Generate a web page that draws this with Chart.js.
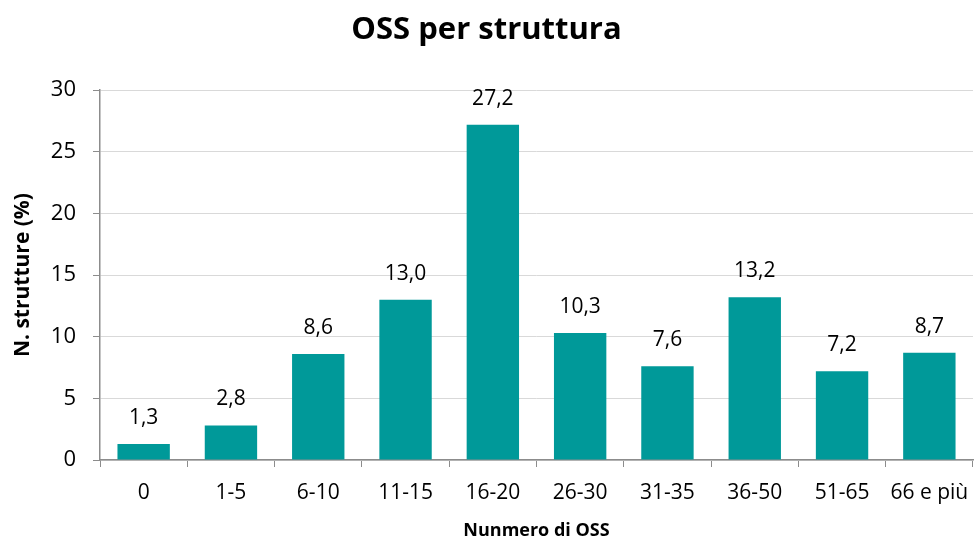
<!DOCTYPE html>
<html>
<head>
<meta charset="utf-8">
<script src="https://cdn.jsdelivr.net/npm/chart.js@4"></script>
<style>
  html, body { margin: 0; padding: 0; background: #fff; }
  #wrap { width: 978px; height: 546px; }
</style>
</head>
<body>
<div id="wrap"><canvas id="c"></canvas></div>
<script>
const categories = ['0', '1-5', '6-10', '11-15', '16-20', '26-30', '31-35', '36-50', '51-65', '66 e più'];
const percentuali = [1.3, 2.8, 8.6, 13.0, 27.2, 10.3, 7.6, 13.2, 7.2, 8.7];
const yTicks = [0, 5, 10, 15, 20, 25, 30];

const FONT = '"Open Sans", sans-serif';
const TEAL = '#009999';
const GRID = '#d9d9d9';
const AXIS = '#8c8c8c';

// etichette sopra le barre, formato italiano con virgola
const barLabels = {
  id: 'barLabels',
  afterDatasetsDraw(chart) {
    const { ctx } = chart;
    const meta = chart.getDatasetMeta(0);
    ctx.save();
    ctx.font = '21px ' + FONT;
    ctx.fillStyle = '#000';
    ctx.textAlign = 'center';
    ctx.textBaseline = 'middle';
    meta.data.forEach((bar, i) => {
      const txt = percentuali[i].toFixed(1).replace('.', ',');
      ctx.fillText(txt, bar.x, bar.y - 26);
    });
    ctx.restore();
  }
};

new Chart(document.getElementById('c'), {
  type: 'bar',
  data: {
    labels: categories,
    datasets: [{
      data: percentuali,
      backgroundColor: TEAL,
      borderWidth: 0,
      categoryPercentage: 0.6,
      barPercentage: 1,
    }],
  },
  options: {
    responsive: true,
    maintainAspectRatio: false,
    animation: false,
    layout: { padding: { left: 0, right: 5, top: 0, bottom: 0 } },
    scales: {
      x: {
        grid: { display: true, drawOnChartArea: false, drawTicks: true, tickLength: 7, tickColor: AXIS, color: AXIS, offset: true },
        border: { color: AXIS, width: 1.5 },
        ticks: { color: '#000', font: { family: FONT, size: 21 }, padding: 13, maxRotation: 0, autoSkip: false },
        title: { display: true, text: 'Nunmero di OSS', color: '#000', font: { family: FONT, size: 18, weight: 'bold' }, padding: { top: 4, bottom: 4 } },
        afterFit(scale) { scale.height = 86; scale.paddingRight = 0; },
      },
      y: {
        min: 0,
        max: 30,
        afterBuildTicks(scale) { scale.ticks = yTicks.map(v => ({ value: v })); },
        grid: { color: GRID, lineWidth: 1, tickLength: 7, tickColor: AXIS },
        border: { color: AXIS, width: 1.5 },
        ticks: { color: '#000', font: { family: FONT, size: 22 }, padding: 17 },
        title: { display: true, text: 'N. strutture (%)', color: '#000', font: { family: FONT, size: 21, weight: 'bold' }, padding: { top: 10, bottom: 4 } },
        afterFit(scale) { scale.width = 100; },
      },
    },
    plugins: {
      legend: { display: false },
      tooltip: { enabled: false },
      title: {
        display: true,
        text: 'OSS per struttura',
        color: '#000',
        font: { family: FONT, size: 31, weight: 'bold' },
        padding: { top: 12, bottom: 41 },
      },
    },
  },
  plugins: [barLabels],
});
</script>
</body>
</html>
